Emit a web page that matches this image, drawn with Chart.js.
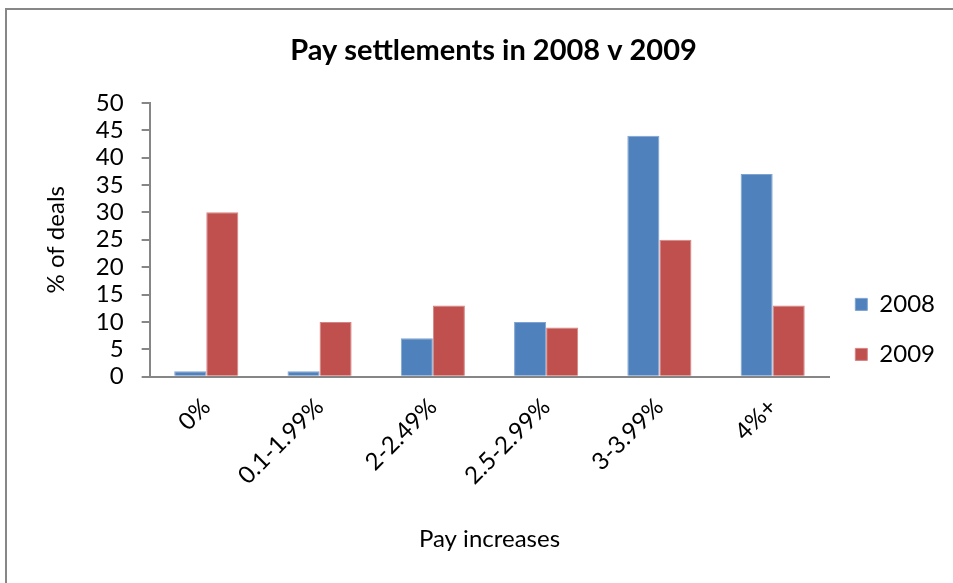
<!DOCTYPE html>
<html>
<head>
<meta charset="utf-8">
<script src="https://cdn.jsdelivr.net/npm/chart.js@4.4.0/dist/chart.umd.min.js"></script>
<style>
  html, body { margin: 0; padding: 0; background: #fff; }
  #wrap { position: relative; width: 953px; height: 583px; overflow: hidden; }
  #frame { position: absolute; left: 5px; top: 8px; width: 1000px; height: 700px;
           border-top: 2px solid #878787; border-left: 2px solid #878787; }
  #chart { position: absolute; left: 0; top: 0; }
</style>
</head>
<body>
<div id="wrap">
  <div id="frame"></div>
  <canvas id="chart" width="953" height="583"></canvas>
</div>
<script>
// pay increase bands and share of deals (%)
const bands = ['0%', '0.1-1.99%', '2-2.49%', '2.5-2.99%', '3-3.99%', '4%+'];
const deals2008 = [1, 1, 7, 10, 44, 37];
const deals2009 = [30, 10, 13, 9, 25, 13];
const yTicks = [0, 5, 10, 15, 20, 25, 30, 35, 40, 45, 50];

const font = 'Lato, "Open Sans", sans-serif';
const axisGrey = '#868686';

const ctx = document.getElementById('chart');

new Chart(ctx, {
    type: 'bar',
    data: {
        labels: bands,
        datasets: [
            {
                label: '2008',
                data: deals2008,
                backgroundColor: '#4F81BD',
                borderColor: '#7FA3D0',
                borderWidth: 1,
                borderSkipped: 'bottom',
                categoryPercentage: 0.566,
                barPercentage: 1.0
            },
            {
                label: '2009',
                data: deals2009,
                backgroundColor: '#C0504D',
                borderColor: '#D48482',
                borderWidth: 1,
                borderSkipped: 'bottom',
                categoryPercentage: 0.566,
                barPercentage: 1.0
            }
        ]
    },
    options: {
        responsive: false,
        animation: false,
        layout: {
            padding: { left: 42, right: 8, top: 0, bottom: 29 }
        },
        plugins: {
            title: {
                display: true,
                text: 'Pay settlements in 2008 v 2009',
                color: '#000',
                font: { family: font, size: 29, weight: 'bold' },
                padding: { top: 33, bottom: 35 }
            },
            legend: {
                position: 'right',
                title: {
                    display: true,
                    text: ' ',
                    font: { family: font, size: 24 },
                    padding: { top: 0, bottom: 76 }
                },
                labels: {
                    color: '#000',
                    font: { family: font, size: 24 },
                    boxWidth: 12,
                    boxHeight: 12,
                    padding: 26
                }
            },
            tooltip: { enabled: false }
        },
        scales: {
            x: {
                grid: { display: false, drawTicks: false },
                border: { color: axisGrey, width: 2 },
                ticks: {
                    color: '#000',
                    font: { family: font, size: 24 },
                    minRotation: 45,
                    maxRotation: 45,
                    padding: 16
                },
                title: {
                    display: true,
                    text: 'Pay increases',
                    color: '#000',
                    font: { family: font, size: 24 },
                    padding: { top: 19, bottom: 0 }
                }
            },
            y: {
                min: 0,
                max: 50,
                afterBuildTicks: (axis) => {
                    axis.ticks = yTicks.map(v => ({ value: v }));
                },
                grid: { drawOnChartArea: false, drawTicks: true, tickLength: 8, color: axisGrey, lineWidth: 2 },
                border: { color: axisGrey, width: 2 },
                ticks: {
                    color: '#000',
                    font: { family: font, size: 24, lineHeight: 1 },
                    autoSkip: false,
                    padding: 18
                },
                title: {
                    display: true,
                    text: '% of deals',
                    color: '#000',
                    font: { family: font, size: 24 },
                    padding: { top: 0, bottom: 7 }
                }
            }
        }
    }
});
</script>
</body>
</html>
